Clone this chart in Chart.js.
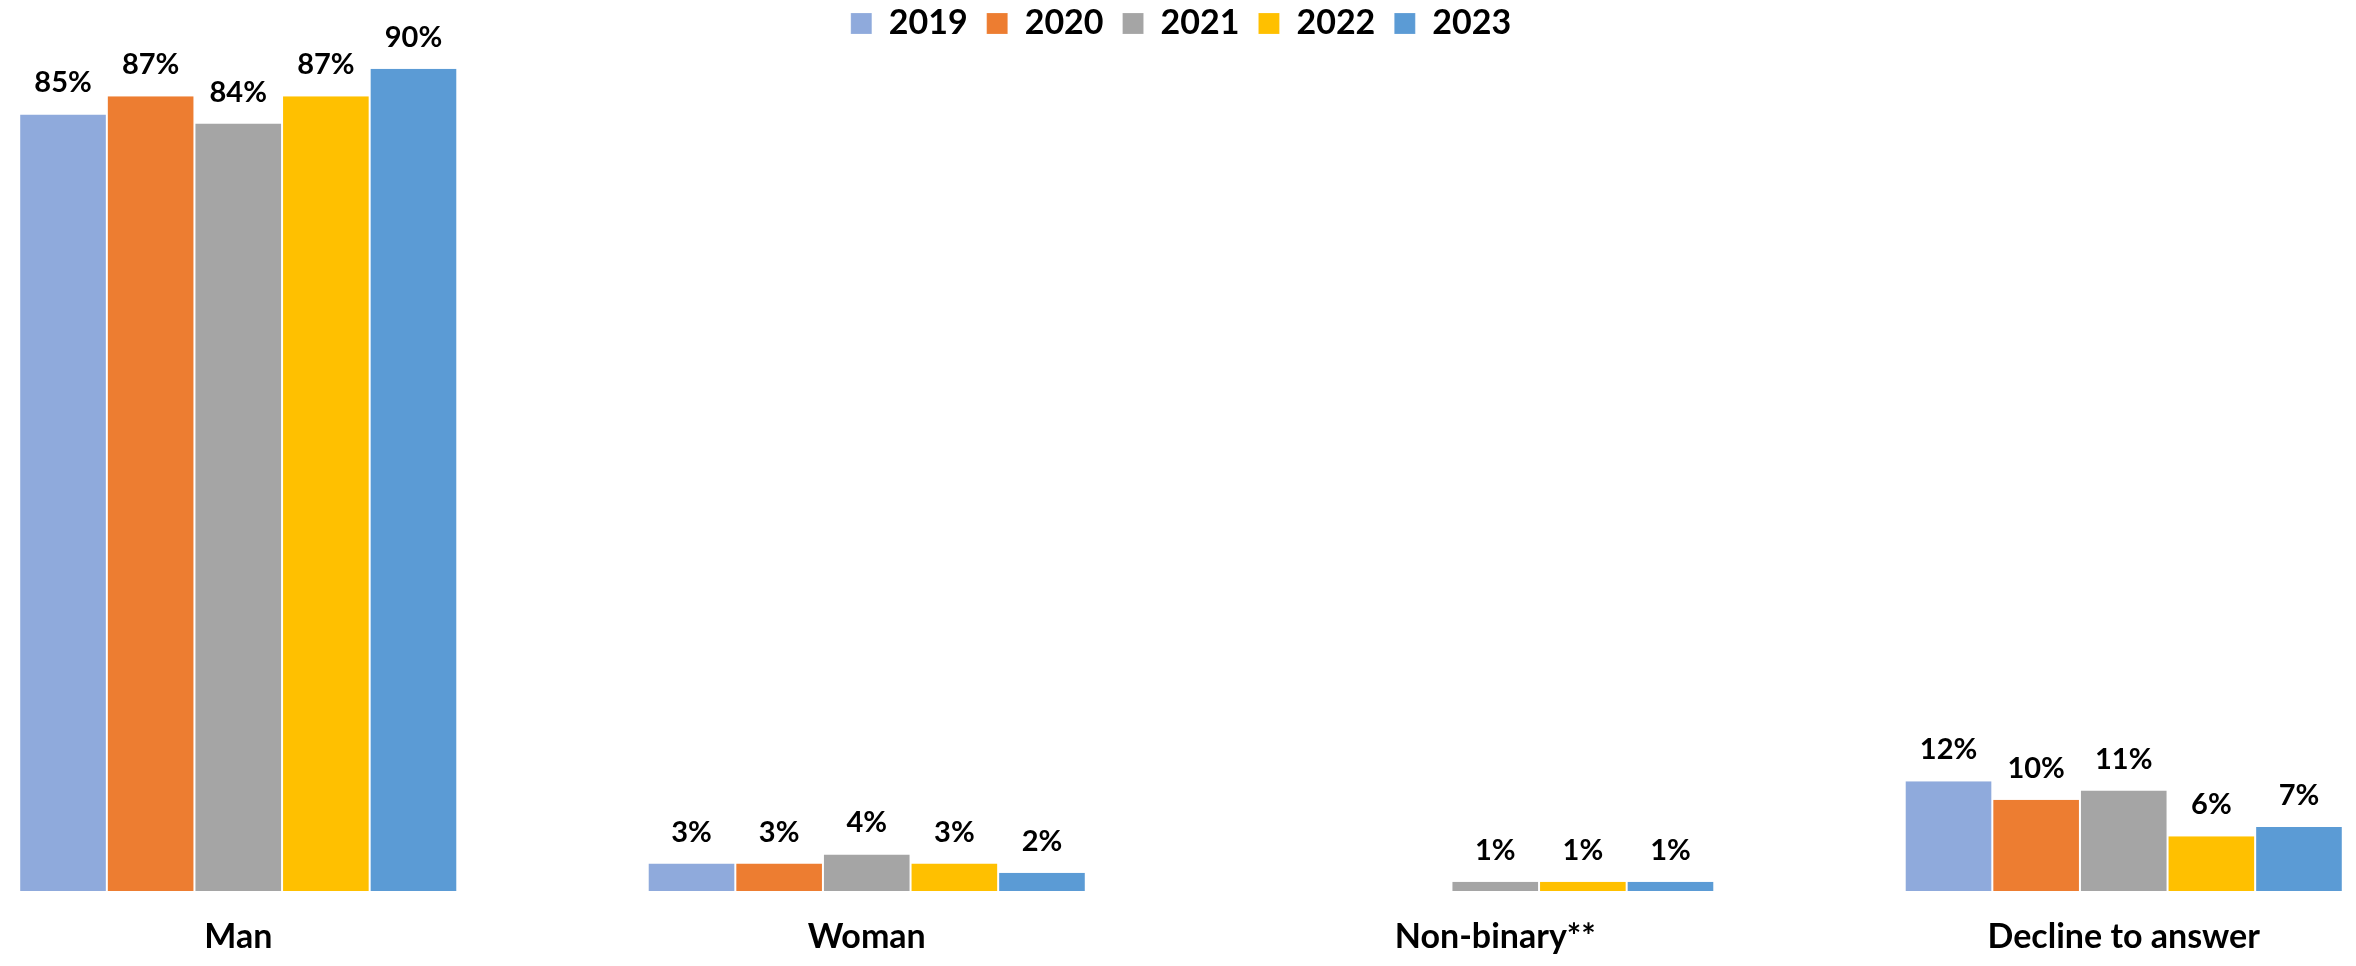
<!DOCTYPE html>
<html>
<head>
<meta charset="utf-8">
<script src="https://cdn.jsdelivr.net/npm/chart.js@4.4.1/dist/chart.umd.min.js"></script>
<style>
  html, body { margin: 0; padding: 0; background: #fff; overflow: hidden; }
  body { width: 2356px; height: 966px; position: relative; }
  #gender { position: absolute; left: -76px; top: 0; }
</style>
</head>
<body>
<canvas id="gender" width="2514" height="966"></canvas>
<script>
// --- Données ---
const CATEGORIES = ['Man', 'Woman', 'Non-binary**', 'Decline to answer'];
const YEARS = ['2019', '2020', '2021', '2022', '2023'];
const COLORS = ['#8FAADC', '#ED7D31', '#A5A5A5', '#FFC000', '#5B9BD5'];

// part (%) par catégorie, une liste par année
const V2019 = [85, 3, null, 12];
const V2020 = [87, 3, null, 10];
const V2021 = [84, 4, 1, 11];
const V2022 = [87, 3, 1, 6];
const V2023 = [90, 2, 1, 7];
const SERIES = [V2019, V2020, V2021, V2022, V2023];

const FONT = 'Lato, Calibri, Carlito, sans-serif';

// --- Étiquettes de valeur au-dessus des barres ---
const valueLabels = {
  id: 'valueLabels',
  afterDatasetsDraw(chart) {
    const ctx = chart.ctx;
    ctx.save();
    ctx.font = `bold 29px ${FONT}`;
    ctx.fillStyle = '#000';
    ctx.textAlign = 'center';
    ctx.textBaseline = 'alphabetic';
    chart.data.datasets.forEach((ds, i) => {
      chart.getDatasetMeta(i).data.forEach((bar, j) => {
        const val = ds.data[j];
        if (val === null || val === undefined) return;
        ctx.fillText(val + '%', bar.x, bar.y - 22);
      });
    });
    ctx.restore();
  }
};

const datasets = YEARS.map((y, i) => ({
  label: y,
  data: SERIES[i],
  backgroundColor: COLORS[i],
  borderColor: 'rgba(255,255,255,0.35)',
  borderWidth: { left: 1, right: 1, top: 0, bottom: 0 },
  borderSkipped: false,
  barPercentage: 1,
  categoryPercentage: 0.697
}));

new Chart(document.getElementById('gender').getContext('2d'), {
  type: 'bar',
  data: { labels: CATEGORIES, datasets },
  plugins: [valueLabels],
  options: {
    responsive: false,
    animation: false,
    layout: { padding: { top: -12.5, left: 0, right: 0, bottom: 0 } },
    plugins: {
      tooltip: { enabled: false },
      legend: {
        position: 'top',
        align: 'center',
        labels: {
          boxWidth: 21,
          boxHeight: 21,
          padding: 19,
          color: '#000',
          font: { family: FONT, size: 34, weight: 'bold' }
        }
      }
    },
    scales: {
      x: {
        grid: { display: false, drawTicks: false },
        border: { display: false },
        ticks: {
          padding: 26,
          color: '#000',
          font: { family: FONT, size: 34, weight: 'bold' }
        },
        afterFit: (s) => { s.height = 75; }
      },
      y: {
        display: false,
        min: 0,
        max: 92
      }
    }
  }
});
</script>
</body>
</html>
